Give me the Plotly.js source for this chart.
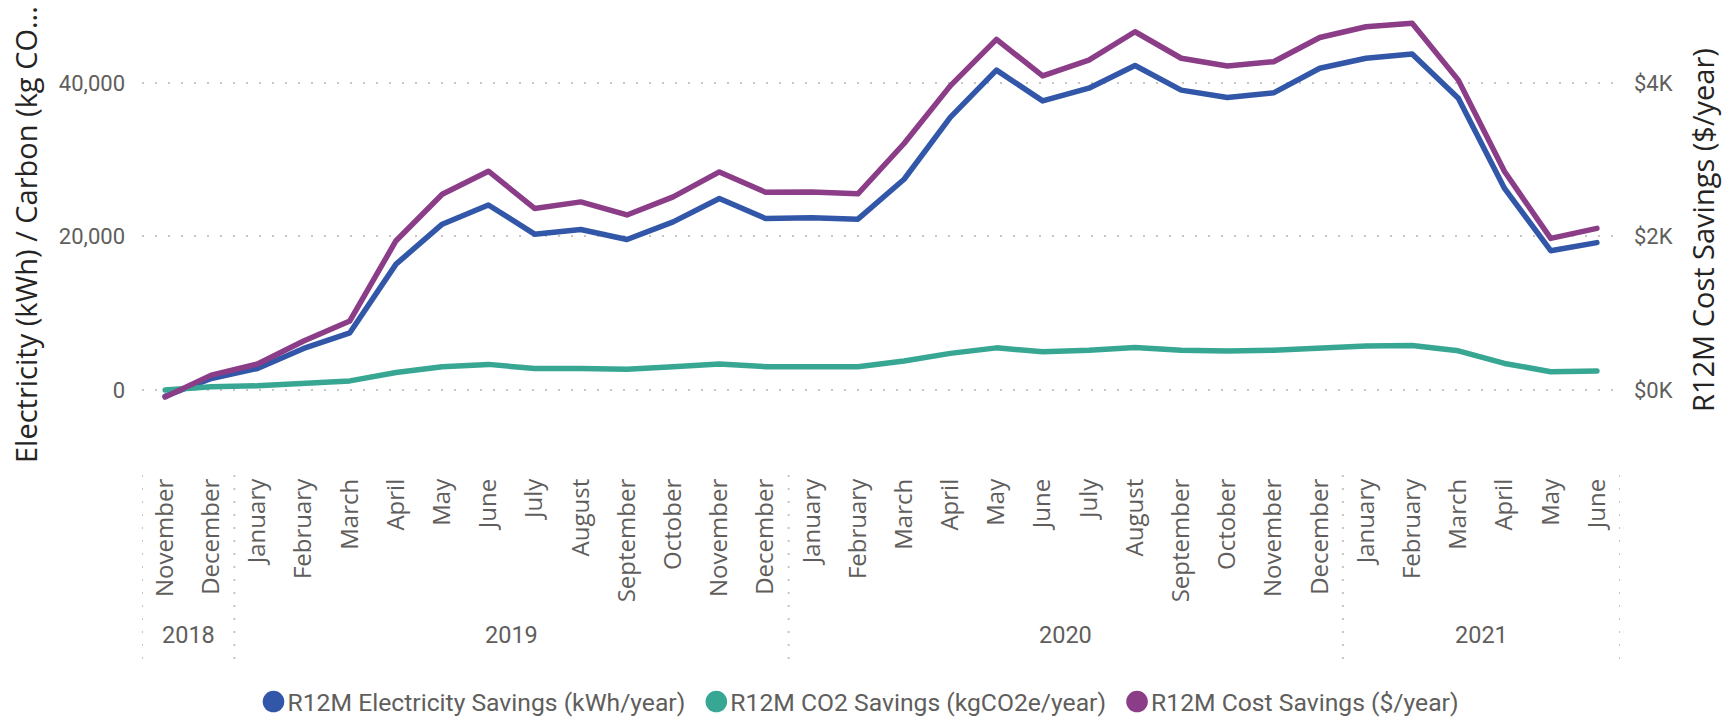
<!DOCTYPE html>
<html>
<head>
<meta charset="utf-8">
<script src="https://cdn.plot.ly/plotly-3.0.1.min.js"></script>
<style>
html,body{margin:0;padding:0;background:#ffffff;}
#chart{width:1733px;height:718px;}
.scatterlayer .js-line{stroke-linejoin:round;stroke-linecap:round;}
.legend .legendpoints path.scatterpts{transform:translate(26px,0px) scale(1.35);}
</style>
</head>
<body>
<div id="chart"></div>
<script>
// ---- data ----
const years = [2018,2018,
  2019,2019,2019,2019,2019,2019,2019,2019,2019,2019,2019,2019,
  2020,2020,2020,2020,2020,2020,2020,2020,2020,2020,2020,2020,
  2021,2021,2021,2021,2021,2021];
const months = ["November","December",
  "January","February","March","April","May","June","July","August","September","October","November","December",
  "January","February","March","April","May","June","July","August","September","October","November","December",
  "January","February","March","April","May","June"];
const electricitySavings = [-800,1520,2820,5430,7460,16400,21600,24100,20300,20900,19600,21900,24950,22350,
  22450,22250,27450,35500,41650,37650,39300,42250,39050,38100,38700,41900,43200,43750,38000,26250,18150,19200];
const co2Savings = [0,430,560,870,1200,2300,3050,3350,2800,2820,2700,3050,3400,3050,
  3050,3050,3780,4780,5500,4990,5200,5550,5200,5080,5200,5500,5730,5820,5120,3470,2400,2480];
const costSavings = [-90,195,340,640,900,1945,2550,2850,2365,2450,2280,2515,2840,2575,
  2580,2555,3210,3960,4565,4090,4295,4665,4320,4220,4275,4590,4730,4775,4035,2845,1975,2105];
const seriesNames = ["R12M Electricity Savings (kWh/year)","R12M CO2 Savings (kgCO2e/year)","R12M Cost Savings ($/year)"];
const leftTickVals = [0,20000,40000];
const rightTickVals = [0,2000,4000];
const rightTickText = ["$0K","$2K","$4K"];
const leftTitle = "Electricity (kWh) / Carbon (kg CO...";
const rightTitle = "R12M Cost Savings ($/year)";

// ---- layout helpers ----
const W = 1733, H = 718;
const M = {l:142, r:113, t:6, b:301, autoexpand:false};
const plotH = H - M.t - M.b;
const plotW = W - M.l - M.r;
const py = p => (H - M.b - p) / plotH;   // pixel y -> paper y
const px = p => (p - M.l) / plotW;       // pixel x -> paper x

const cats = months.map((m,i) => m + " " + years[i]);

const colors = ["#3257A8","#37A794","#8B3D88"];
const dataSets = [electricitySavings, co2Savings, costSavings];
const axesFor = ["y","y","y2"];

const traces = [];
dataSets.forEach((vals,k) => {
  traces.push({
    type:"scatter", mode:"lines", x:cats, y:vals, yaxis:axesFor[k],
    name:seriesNames[k], showlegend:false,
    line:{color:colors[k], width:5.5}, hoverinfo:"skip"
  });
});
// legend entries (circle symbols)
dataSets.forEach((vals,k) => {
  traces.push({
    type:"scatter", mode:"markers", x:[null], y:[null], yaxis:axesFor[k],
    name:seriesNames[k], showlegend:true,
    marker:{color:colors[k], size:16, symbol:"circle"}
  });
});

// year groups
const yearGroups = [];
years.forEach((y,i) => {
  const g = yearGroups[yearGroups.length-1];
  if (g && g.year === y) g.last = i; else yearGroups.push({year:y, first:i, last:i});
});

const gridColor = "#C8C6C4";
const shapes = [];
const boundaries = [yearGroups[0].first - 0.5].concat(yearGroups.map(g => g.last + 0.5));
boundaries.forEach(b => {
  shapes.push({type:"line", xref:"x", yref:"paper", x0:b, x1:b, y0:py(475), y1:py(660),
    line:{color:gridColor, width:2, dash:"2px,11px"}});
});

const tickFont = {family:"Roboto, 'Open Sans', sans-serif", size:22, color:"#605E5C"};
const yearFont = {family:"Roboto, 'Open Sans', sans-serif", size:23.5, color:"#605E5C"};
const annotations = yearGroups.map(g => ({
  xref:"x", yref:"paper", x:(g.first + g.last)/2, y:py(635), text:String(g.year),
  showarrow:false, xanchor:"center", yanchor:"middle", font:yearFont
}));
const titleFont = {family:"'Open Sans', sans-serif", size:29, color:"#252423"};
annotations.push({xref:"paper", yref:"paper", x:px(25), y:py(235), text:leftTitle, textangle:-90,
  showarrow:false, xanchor:"center", yanchor:"middle", font:titleFont});
annotations.push({xref:"paper", yref:"paper", x:px(1702), y:py(230), text:rightTitle, textangle:-90,
  showarrow:false, xanchor:"center", yanchor:"middle", font:titleFont});

const layout = {
  width:W, height:H, margin:M,
  paper_bgcolor:"#ffffff", plot_bgcolor:"#ffffff",
  showlegend:true,
  legend:{orientation:"h", x:px(856), xanchor:"center", y:py(702), yanchor:"middle",
    font:{family:"Roboto, 'Open Sans', sans-serif", size:24.7, color:"#605E5C"},
    itemclick:false, traceorder:"normal"},
  xaxis:{type:"category", categoryorder:"array", categoryarray:cats,
    tickmode:"array", tickvals:cats, ticktext:months, tickangle:-90,
    tickfont:{family:"'Open Sans', sans-serif", size:24, color:"#605E5C"},
    showgrid:false, zeroline:false, showline:false, ticks:"", ticklabelstandoff:56,
    automargin:false, range:[-0.5, cats.length-0.5]},
  yaxis:{range:[-3500,50000], tickmode:"array", tickvals:leftTickVals, tickformat:",",
    tickfont:tickFont, showgrid:true, gridcolor:gridColor, gridwidth:2, griddash:"2px,11px",
    zeroline:false, showline:false, ticks:"", ticklabelstandoff:16, automargin:false},
  yaxis2:{overlaying:"y", side:"right", range:[-350,5000], tickmode:"array",
    tickvals:rightTickVals, ticktext:rightTickText, tickfont:tickFont,
    showgrid:false, zeroline:false, showline:false, ticks:"", ticklabelstandoff:13, automargin:false},
  shapes:shapes, annotations:annotations
};

Plotly.newPlot("chart", traces, layout, {staticPlot:true, displayModeBar:false});
</script>
</body>
</html>
